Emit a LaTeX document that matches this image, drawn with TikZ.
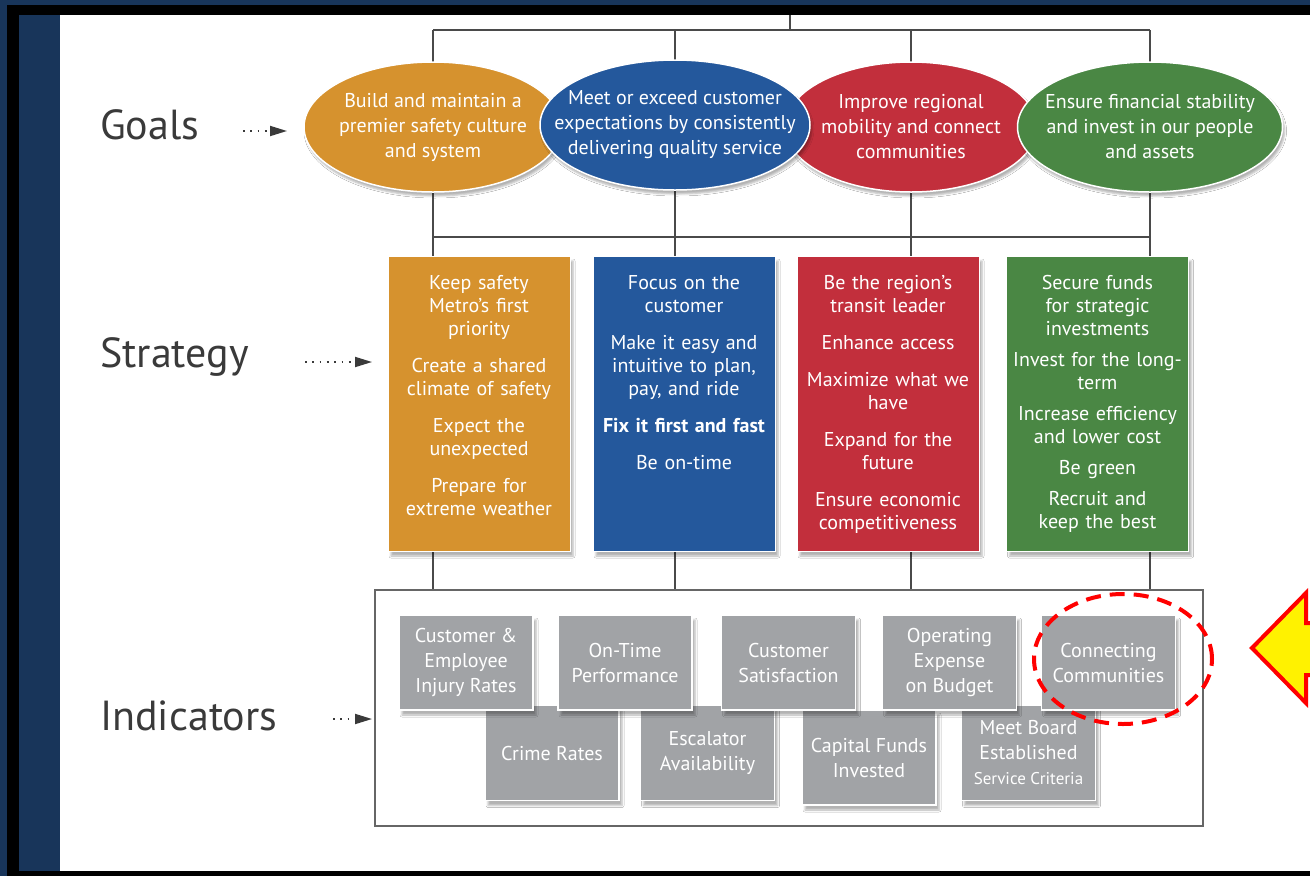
\documentclass[tikz,border=0pt]{standalone}
\usepackage{fontspec}
\setmainfont{PT Sans}
\usetikzlibrary{arrows.meta, positioning, shapes.geometric, shadows.blur}

\definecolor{navybg}{HTML}{18355A}
\definecolor{goalorange}{HTML}{D6922E}
\definecolor{goalblue}{HTML}{24589C}
\definecolor{goalred}{HTML}{C22F3C}
\definecolor{goalgreen}{HTML}{4A8744}
\definecolor{indgray}{HTML}{A1A3A6}
\definecolor{labelgray}{HTML}{3A3A3A}
\definecolor{linegray}{HTML}{4A4A4A}

\tikzset{
  goal/.style={ellipse, fill=#1, draw=white, line width=1.5pt, minimum height=130pt, inner sep=0pt,
    blur shadow={shadow xshift=2pt, shadow yshift=-4pt, shadow opacity=30}},
  goaltext/.style={inner sep=0pt, text=white, align=center, font=\fontsize{20}{25}\selectfont},
  stratbox/.style={rectangle, fill=#1, draw=white, line width=1pt, minimum width=182pt, minimum height=295pt,
    inner sep=0pt, blur shadow={shadow xshift=3pt, shadow yshift=-5pt, shadow opacity=30}},
  strattext/.style={inner sep=0pt, text=white, align=center, text width=178pt, font=\fontsize{20}{23}\selectfont},
  indbox/.style={rectangle, fill=indgray, draw=white, line width=1.5pt, minimum width=134pt, minimum height=95pt,
    inner sep=0pt, text=white, align=center, font=\fontsize{20}{25}\selectfont,
    blur shadow={shadow xshift=3pt, shadow yshift=-5pt, shadow opacity=30}},
  rowlabel/.style={anchor=west, inner sep=0pt, text=labelgray, font=\fontsize{42}{46}\selectfont},
  dotarrow/.style={draw=labelgray, line width=1.8pt, dash pattern=on 1.8pt off 5.5pt,
    -{Triangle[length=17pt, width=10pt]}},
  tree/.style={draw=linegray, line width=1.2pt}
}

\begin{document}
\begin{tikzpicture}[x=1pt, y=-1pt]
    \useasboundingbox (0,0) rectangle (1310,876);

    % frame round the slide
    \fill[navybg] (0,0) rectangle (1310,876);
    \fill[black] (7,5) rectangle (1310,876);
    \fill[navybg] (19,15) rectangle (60,871);
    \fill[white] (60,15) rectangle (1310,871);

    % column positions and the tree behind the boxes
    \coordinate (g1c) at (433,127);
    \coordinate (g2c) at (675,125);
    \coordinate (g3c) at (911,127);
    \coordinate (g4c) at (1150,127);
    \coordinate (top) at (790,15);
    \coordinate (topbus) at (790,30);
    \coordinate (midbus) at (790,237);
    \coordinate (indtop) at (790,590);
    \draw[tree] (top) -- (topbus);
    \draw[tree] (g1c |- topbus) -- (g4c |- topbus);
    \draw[tree] (g1c |- midbus) -- (g4c |- midbus);
    \foreach \i in {1,...,4}
      \draw[tree] (g\i c |- topbus) -- (g\i c |- indtop);

    % row labels
    \node[rowlabel] (goals) at (100,125) {Goals};
    \node[rowlabel] (strategy) at (100,357) {Strategy};
    \node[rowlabel] (indicators) at (100,716) {Indicators};
    \coordinate (goalstail) at (243,131);   \coordinate (goalshead) at (287,131);
    \coordinate (strattail) at (305,362);   \coordinate (strathead) at (372,362);
    \coordinate (indtail) at (333,719);     \coordinate (indhead) at (372,719);
    \draw[dotarrow] (goalstail) -- (goalshead);
    \draw[dotarrow] (strattail) -- (strathead);
    \draw[dotarrow] (indtail) -- (indhead);

    % goals
    \node[goal=goalorange, minimum width=258pt] (g1) at (g1c) {};
    \node[goal=goalred, minimum width=252pt] (g3) at (g3c) {};
    \node[goal=goalblue, minimum width=270pt] (g2) at (g2c) {};
    \node[goal=goalgreen, minimum width=265pt] (g4) at (g4c) {};
    \node[goaltext] (g1txt) at (g1) {Build and maintain a\\premier safety culture\\and system};
    \node[goaltext] (g2txt) at (g2) {Meet or exceed customer\\expectations by consistently\\delivering quality service};
    \node[goaltext] (g3txt) at (g3) {Improve regional\\mobility and connect\\communities};
    \node[goaltext] (g4txt) at (g4) {Ensure financial stability\\and invest in our people\\and assets};

    % strategy columns
    \node[stratbox=goalorange] (s1) at (479,403.5) {};
    \node[stratbox=goalblue] (s2) at (684,403.5) {};
    \node[stratbox=goalred] (s3) at (888,403.5) {};
    \node[stratbox=goalgreen] (s4) at (1097.5,403.5) {};

    \node[strattext, below=20pt of s1.north] (s1txt) {Keep safety\\Metro’s first\\priority\\[14pt]
      Create a shared\\climate of safety\\[14pt]Expect the\\unexpected\\[14pt]Prepare for\\extreme weather};
    \node[strattext, below=20pt of s2.north] (s2txt) {Focus on the\\customer\\[14pt]
      Make it easy and\\intuitive to plan,\\pay, and ride\\[14pt]\textbf{Fix it first and fast}\\[14pt]Be on-time};
    \node[strattext, below=20pt of s3.north] (s3txt) {Be the region’s\\transit leader\\[14pt]Enhance access\\[14pt]
      Maximize what we\\have\\[14pt]Expand for the\\future\\[14pt]Ensure economic\\competitiveness};
    \node[strattext, below=20pt of s4.north] (s4txt) {Secure funds\\for strategic\\investments\\[8pt]
      Invest for the long-\\term\\[8pt]Increase efficiency\\and lower cost\\[8pt]Be green\\[8pt]Recruit and\\keep the best};

    % indicators
    \node[draw=gray!80!black, line width=1.2pt, fill=white, minimum width=828pt, minimum height=236pt] (ind) at (789,708) {};
    \node[indbox] (i6) at (552,753) {Crime Rates};
    \node[indbox] (i7) at (707.5,753) {Escalator\\Availability};
    \node[indbox] (i8) at (869,757.5) {Capital Funds\\Invested};
    \node[indbox] (i9) at (1028.5,753) {Meet Board\\Established\\{\fontsize{17}{25}\selectfont Service Criteria}};
    \node[indbox] (i1) at (466,662.5) {Customer \&\\Employee\\Injury Rates};
    \node[indbox] (i2) at (625,662.5) {On-Time\\Performance};
    \node[indbox] (i3) at (788.5,662.5) {Customer\\Satisfaction};
    \node[indbox] (i4) at (949.5,662.5) {Operating\\Expense\\on Budget};
    \node[indbox] (i5) at (1108.5,662.5) {Connecting\\Communities};

    % highlight
    \node[ellipse, draw=red, line width=4pt, dash pattern=on 15pt off 9pt, minimum width=178pt, minimum height=130pt] (hilite) at (1123,659) {};
    \draw[red, line width=4pt, fill=yellow, line join=miter]
      (1252,648) -- (1306,593) -- (1306,623) -- (1330,623) -- (1330,675) -- (1306,675) -- (1306,703) -- cycle;
\end{tikzpicture}
\end{document}
